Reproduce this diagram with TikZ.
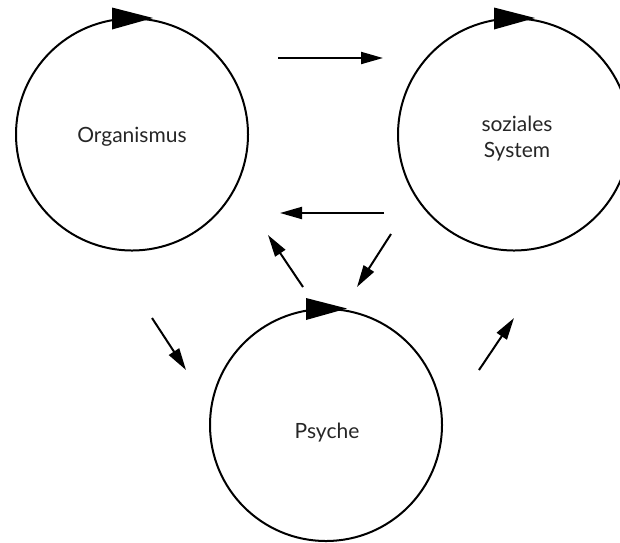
\documentclass[tikz,border=0pt]{standalone}
\usepackage{fontspec}
\setmainfont{Lato}
\usetikzlibrary{arrows.meta}
\begin{document}
\begin{tikzpicture}[x=1pt,y=-1pt,
  sysbox/.style={circle,draw,line width=2pt,minimum size=232pt,inner sep=0pt},
  lbl/.style={anchor=base,inner sep=0pt,font=\fontsize{21}{26}\selectfont,text=black!85},
  flow/.style={line width=2pt,-{Triangle[length=22pt,width=12pt]}},
  cyctip/.style={fill=black}]
\useasboundingbox (0,0) rectangle (620,542);
\clip (0,0) rectangle (620,542);
\node[sysbox] (org) at (132,134.5) {};
\node[sysbox] (soz) at (514,134.5) {};
\node[sysbox] (psy) at (326,425) {};
\node[lbl] (orgt) at (132,142) {Organismus};
\node[lbl] (sozt1) at (517,131) {soziales};
\node[lbl] (sozt2) at (517,157) {System};
\node[lbl] (psyt) at (327,438) {Psyche};
\foreach \n in {org,soz,psy}{
  \fill[cyctip,shift={(\n.center)}] (-20,-127) -- (21,-116.5) -- (-20,-105) -- cycle;
}
\coordinate (a1s) at (278,58);  \coordinate (a1e) at (383,58);
\coordinate (a2s) at (384,213); \coordinate (a2e) at (280,213);
\coordinate (a3s) at (303,287); \coordinate (a3e) at (268,235);
\coordinate (a4s) at (391,234); \coordinate (a4e) at (357,287);
\coordinate (a5s) at (152,318); \coordinate (a5e) at (186,370);
\coordinate (a6s) at (479,370); \coordinate (a6e) at (514,318);
\foreach \i in {1,...,6}{ \draw[flow] (a\i s) -- (a\i e); }
\end{tikzpicture}
\end{document}
